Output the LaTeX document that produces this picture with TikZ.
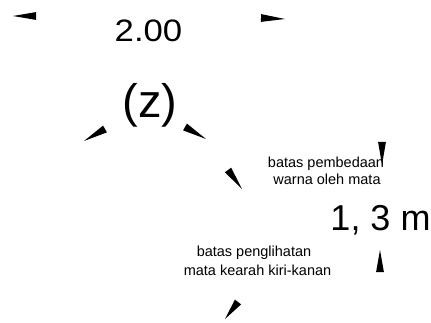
\documentclass[tikz,border=0pt]{standalone}
\usepackage{fontspec}
\setmainfont{Liberation Sans}
\usetikzlibrary{calc}
\newcommand\wdg[2]{\fill[wedgefill] (#1) -- ($(#2)!3.9pt!90:(#1)$) -- ($(#2)!3.9pt!-90:(#1)$) -- cycle;}
\begin{document}
\begin{tikzpicture}[x=1pt,y=-1pt,
  wedgefill/.style={fill=black},
  lbl/.style={inner sep=0pt, anchor=base},
  small/.style={lbl, font=\fontsize{14.5}{18}\selectfont}]
\useasboundingbox (0,0) rectangle (431,323);
% wedge tips and bases
\coordinate (t1) at (13,16);   \coordinate (b1) at (36,16);
\coordinate (t2) at (285,19);  \coordinate (b2) at (261,18);
\coordinate (t3) at (84,141);  \coordinate (b3) at (105,129);
\coordinate (t4) at (206,139); \coordinate (b4) at (185,127);
\coordinate (t5) at (242,189); \coordinate (b5) at (228,170);
\coordinate (t6) at (225,319); \coordinate (b6) at (238,302);
\coordinate (t7) at (382,165); \coordinate (b7) at (382,142);
\coordinate (t8) at (380,250); \coordinate (b8) at (380,272);
\wdg{t1}{b1}
\wdg{t2}{b2}
\wdg{t3}{b3}
\wdg{t4}{b4}
\wdg{t5}{b5}
\wdg{t6}{b6}
\wdg{t7}{b7}
\wdg{t8}{b8}
% texts
\node[lbl, font=\fontsize{31}{35}\selectfont] (w) at (148.5,42) {\scalebox{1.12}[1]{2.00}};
\node[lbl, font=\fontsize{47}{51}\selectfont] (z) at (150,118) {(z)};
\node[lbl, font=\fontsize{36}{40}\selectfont] (h) at (380.5,230) {1, 3 m};
\node[small] (c1) at (326,168) {batas pembedaan};
\node[small] (c2) at (327,185) {warna oleh mata};
\node[small] (v1) at (254,256) {batas penglihatan};
\node[small] (v2) at (257.5,275) {mata kearah kiri-kanan};
\end{tikzpicture}
\end{document}
